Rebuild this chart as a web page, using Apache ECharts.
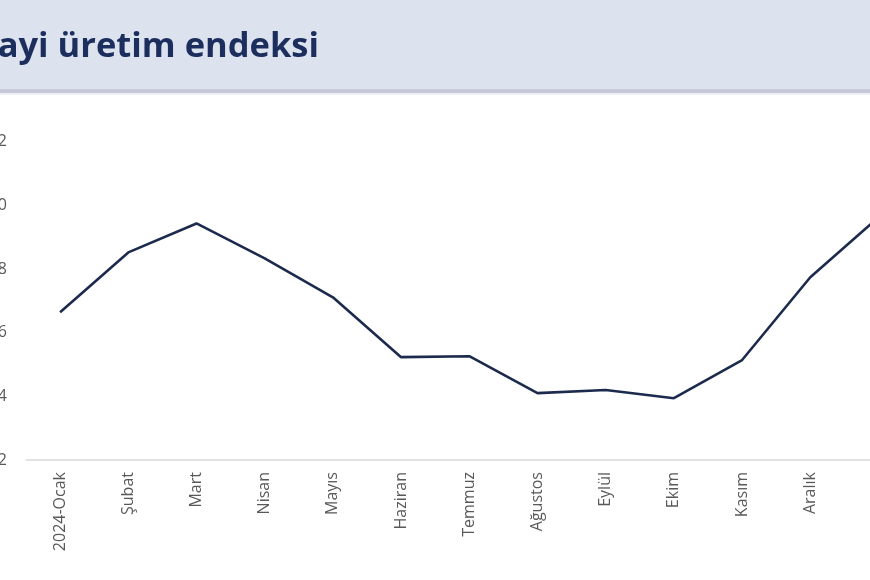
<!DOCTYPE html>
<html>
<head>
<meta charset="utf-8">
<script src="https://cdn.jsdelivr.net/npm/echarts@6/dist/echarts.min.js"></script>
<style>
html,body{margin:0;padding:0;background:#fff;}
#c{width:870px;height:580px;}
</style>
</head>
<body>
<div id="c"></div>
<script>
const titleText = 'Sanayi üretim endeksi';
const categories = ['2024-Ocak','Şubat','Mart','Nisan','Mayıs','Haziran','Temmuz','Ağustos','Eylül','Ekim','Kasım','Aralık','2025-Ocak'];
const values = [106.64, 108.52, 109.43, 108.33, 107.11, 105.23, 105.26, 104.10, 104.20, 103.94, 105.14, 107.74, 109.62];
const yTicks = {min: 102, max: 112, interval: 2};

const chart = echarts.init(document.getElementById('c'));
chart.setOption({
  animation: false,
  backgroundColor: '#ffffff',
  graphic: [
    {type: 'rect', shape: {x: 0, y: 0, width: 870, height: 90}, style: {fill: '#dce3ee'}, z: 0},
    {type: 'rect', shape: {x: 0, y: 89, width: 870, height: 4}, style: {fill: '#c4c8d7'}, z: 0},
    {type: 'rect', shape: {x: 0, y: 93, width: 870, height: 2}, style: {fill: '#eef0f5'}, z: 0},
    {type: 'text', x: 319, y: 47, style: {text: titleText, textAlign: 'right', textVerticalAlign: 'middle', fill: '#1b2e5e', font: 'bold 34.5px "Open Sans"'}, z: 10}
  ],
  grid: {left: 26, top: 141.6, width: 886.6, height: 318.4, containLabel: false, outerBoundsMode: 'none'},
  xAxis: {
    type: 'category',
    data: categories,
    boundaryGap: true,
    axisLine: {lineStyle: {color: '#d9d9d9', width: 1.5}},
    axisTick: {show: false},
    axisLabel: {rotate: 90, interval: 0, margin: 12, color: '#595959', fontSize: 16, fontFamily: 'Open Sans'}
  },
  yAxis: {
    type: 'value',
    min: yTicks.min, max: yTicks.max, interval: yTicks.interval,
    axisLine: {show: false},
    axisTick: {show: false},
    splitLine: {show: false},
    axisLabel: {margin: 19, color: '#595959', fontSize: 16, fontFamily: 'Open Sans'}
  },
  series: [{
    type: 'line',
    data: values,
    symbol: 'none',
    lineStyle: {color: '#1c2a4d', width: 2.6},
    z: 5
  }]
});
</script>
</body>
</html>
